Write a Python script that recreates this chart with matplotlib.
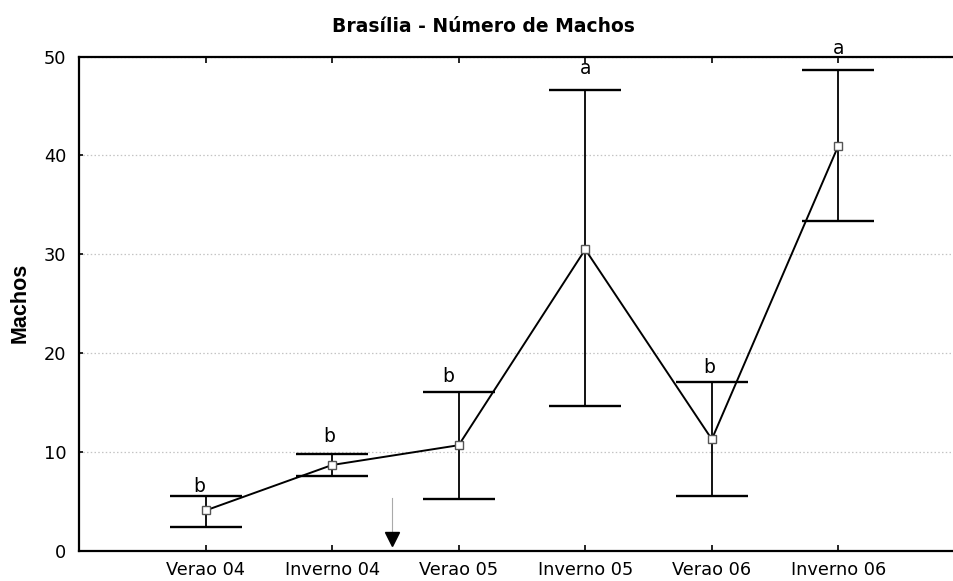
import matplotlib
matplotlib.use("Agg")
import matplotlib.pyplot as plt
import numpy as np

# ---- data ----
categories = ["Verao 04", "Inverno 04", "Verao 05", "Inverno 05", "Verao 06", "Inverno 06"]
means = [4.1, 8.7, 10.7, 30.5, 11.3, 41.0]
upper = [5.6, 9.8, 16.1, 46.6, 17.1, 48.6]
lower = [2.4, 7.6, 5.3, 14.7, 5.6, 33.4]
letters = ["b", "b", "b", "a", "b", "a"]
letter_y = [6.0, 11.0, 17.1, 48.2, 18.0, 50.3]
letter_dx = [-0.05, -0.02, -0.08, 0.0, -0.02, 0.0]
yticks = [0, 10, 20, 30, 40, 50]
title = "Brasília - Número de Machos"
ylabel = "Machos"
# arrow marker between Inverno 04 and Verao 05
arrow_x = 1.47
arrow_line_top = 5.36
arrow_line_bottom = 1.9
arrow_head_y = 1.2

plt.rcParams['font.family'] = ['DejaVu Sans']

fig = plt.figure(figsize=(9.54, 5.81), dpi=100)
ax = fig.add_axes([0.0828, 0.0516, 0.9287, 0.851])

x = np.arange(len(categories))
means_a = np.array(means)
yerr = np.vstack([means_a - np.array(lower), np.array(upper) - means_a])

ax.errorbar(x, means, yerr=yerr, fmt='none', ecolor='black', elinewidth=1.3,
            capsize=26, capthick=1.7, zorder=3)
ax.plot(x, means, color='black', lw=1.4, marker='s', markersize=6,
        markerfacecolor='white', markeredgecolor='#555555', markeredgewidth=1.0,
        zorder=4)

for xi, lab, ly, dx in zip(x, letters, letter_y, letter_dx):
    ax.text(xi + dx, ly, lab, ha='center', va='baseline', fontsize=13.5,
            color='black', zorder=5)

# arrow
ax.plot([arrow_x, arrow_x], [arrow_line_bottom, arrow_line_top], color='#aaaaaa', lw=0.8,
        zorder=3)
ax.plot([arrow_x], [arrow_head_y], marker='v', markersize=10.5, color='black',
        linestyle='none', zorder=3)

ax.set_xlim(-1, 6)
ax.set_ylim(0, 50)
ax.set_yticks(yticks)
ax.set_xticks(x)
ax.set_xticklabels(categories)

ax.yaxis.grid(True, linestyle=(0, (1.2, 1.8)), color='#c4c4c4', lw=0.9)
ax.set_axisbelow(True)

for s in ax.spines.values():
    s.set_linewidth(1.6)
    s.set_color('black')
ax.spines['right'].set_visible(False)

ax.tick_params(axis='x', direction='in', length=4, width=1.2, top=True, bottom=True,
               labelsize=12.8, pad=7)
ax.tick_params(axis='y', direction='in', length=3, width=1.2, left=True, right=False,
               labelsize=12.8, pad=9)

fig.text(0.507, 0.955, title, ha='center', va='center', fontsize=13.5,
         fontweight='bold')
fig.text(0.021, 0.478, ylabel, ha='center', va='center', rotation=90,
         fontsize=15.5, fontweight='bold', family=['Liberation Sans', 'DejaVu Sans'])

fig.savefig("out.png", dpi=100)
